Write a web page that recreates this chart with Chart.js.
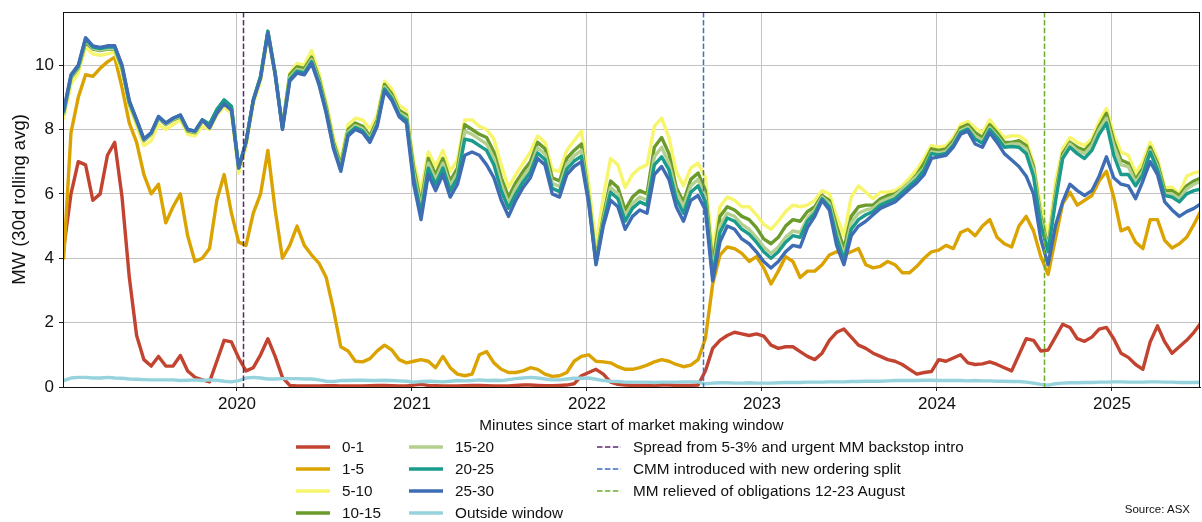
<!DOCTYPE html>
<html>
<head>
<meta charset="utf-8">
<script src="https://cdn.jsdelivr.net/npm/chart.js@4.4.1/dist/chart.umd.min.js"></script>
<style>
  html, body { margin: 0; padding: 0; background: #ffffff; }
  #wrap { position: relative; width: 1202px; height: 522px; overflow: hidden;
          font-family: "Liberation Sans", Arial, Helvetica, sans-serif; color: #111; }
  #chart { position: absolute; left: 0; top: 0; }
  .xtitle { position: absolute; left: 63px; width: 1137px; top: 416px; text-align: center;
            font-size: 15.3px; line-height: 18px; }
  .lg { position: absolute; font-size: 15.3px; line-height: 18px; white-space: nowrap; }
  .lg svg { position: absolute; overflow: visible; }
  .source { position: absolute; right: 12px; top: 503px; font-size: 11.5px; line-height: 13px; }
</style>
</head>
<body>
<div id="wrap">
  <canvas id="chart" width="1202" height="522"></canvas>
  <div class="xtitle">Minutes since start of market making window</div>
  <div class="source">Source: ASX</div>
</div>
<script>
// Half-monthly samples of the 30-day rolling average, starting early January 2019
const sampleStart = 2019.01;
const sampleStep = 1 / 24;

const seriesNames = ['0-1', '1-5', '5-10', '10-15', '15-20', '20-25', '25-30', 'Outside window'];

const mw0_1 = [4.3, 6.0, 7.0, 6.9, 5.8, 6.0, 7.2, 7.6, 5.9, 3.4,
  1.6, 0.85, 0.65, 0.95, 0.65, 0.65, 0.98, 0.5, 0.3, 0.22,
  0.16, 0.8, 1.45, 1.4, 0.9, 0.5, 0.6, 1.0, 1.5, 0.95,
  0.3, 0.05, 0.03, 0.03, 0.03, 0.03, 0.04, 0.04, 0.03, 0.03,
  0.03, 0.03, 0.04, 0.05, 0.05, 0.04, 0.03, 0.03, 0.06, 0.08,
  0.05, 0.04, 0.03, 0.03, 0.03, 0.04, 0.05, 0.05, 0.04, 0.03,
  0.03, 0.03, 0.05, 0.06, 0.06, 0.05, 0.04, 0.04, 0.05, 0.06,
  0.1, 0.35, 0.45, 0.55, 0.4, 0.15, 0.08, 0.06, 0.05, 0.05,
  0.05, 0.05, 0.06, 0.06, 0.05, 0.05, 0.05, 0.06, 0.5, 1.2,
  1.45, 1.6, 1.7, 1.65, 1.6, 1.65, 1.58, 1.3, 1.2, 1.25,
  1.25, 1.1, 0.95, 0.85, 1.05, 1.45, 1.7, 1.8, 1.55, 1.3,
  1.2, 1.05, 0.95, 0.85, 0.8, 0.7, 0.55, 0.4, 0.45, 0.48,
  0.85, 0.8, 0.9, 1.0, 0.75, 0.7, 0.72, 0.78, 0.7, 0.6,
  0.5, 1.0, 1.5, 1.45, 1.12, 1.15, 1.55, 1.95, 1.85, 1.5,
  1.42, 1.55, 1.8, 1.85, 1.5, 1.05, 0.92, 0.7, 0.55, 1.4,
  1.9, 1.4, 1.05, 1.25, 1.45, 1.7, 2.0];

const mw1_5 = [4.0, 7.9, 9.0, 9.7, 9.65, 9.9, 10.1, 10.25, 9.3, 8.2,
  7.6, 6.6, 6.0, 6.3, 5.1, 5.6, 6.0, 4.7, 3.9, 4.0,
  4.3, 5.8, 6.6, 5.4, 4.5, 4.4, 5.4, 6.0, 7.35, 5.5,
  4.0, 4.4, 5.0, 4.4, 4.1, 3.85, 3.4, 2.4, 1.25, 1.12,
  0.8, 0.78, 0.88, 1.12, 1.3, 1.15, 0.85, 0.75, 0.8, 0.85,
  0.8, 0.6, 0.95, 0.6, 0.4, 0.35, 0.4, 1.0, 1.1, 0.75,
  0.55, 0.45, 0.45, 0.5, 0.6, 0.55, 0.4, 0.33, 0.35, 0.45,
  0.8, 0.95, 1.0, 0.8, 0.78, 0.75, 0.63, 0.55, 0.55, 0.6,
  0.68, 0.78, 0.85, 0.8, 0.7, 0.63, 0.68, 0.85, 1.5, 3.2,
  4.1, 4.35, 4.3, 4.15, 3.9, 4.05, 3.7, 3.2, 3.6, 4.05,
  3.9, 3.4, 3.6, 3.6, 3.8, 4.1, 4.2, 4.1, 4.2, 4.3,
  3.8, 3.7, 3.75, 3.9, 3.8, 3.55, 3.55, 3.75, 4.0, 4.2,
  4.25, 4.4, 4.3, 4.8, 4.9, 4.7, 5.0, 5.2, 4.65, 4.45,
  4.35, 5.0, 5.3, 4.85, 4.05, 3.5, 4.6, 5.7, 6.05, 5.65,
  5.8, 5.95, 6.4, 6.7, 5.9, 4.85, 4.95, 4.5, 4.3, 5.2,
  5.2, 4.55, 4.32, 4.45, 4.65, 5.05, 5.5];

const mw5_10 = [8.35, 9.4, 9.75, 10.55, 10.35, 10.3, 10.35, 10.4, 9.8, 8.75,
  8.1, 7.5, 7.65, 8.15, 8.0, 8.15, 8.3, 7.85, 7.8, 8.1,
  8.0, 8.45, 8.7, 8.5, 6.65, 7.45, 8.8, 9.5, 10.9, 9.7,
  8.1, 9.75, 10.05, 10.0, 10.45, 9.75, 8.85, 7.75, 7.05, 8.15,
  8.35, 8.3, 8.0, 8.45, 9.5, 9.25, 8.75, 8.6, 7.0, 6.1,
  7.3, 6.85, 7.35, 6.7, 7.05, 8.3, 8.3, 8.1, 8.0, 7.7,
  6.9, 6.2, 6.6, 6.95, 7.3, 7.8, 7.6, 6.75, 6.7, 7.35,
  7.65, 7.95, 6.3, 4.4, 5.9, 7.1, 6.9, 6.2, 6.6, 6.8,
  6.9, 8.1, 8.35, 7.75, 6.7, 6.25, 6.8, 6.95, 6.5, 4.2,
  5.6, 5.9, 5.8, 5.6, 5.6, 5.35, 5.05, 4.9, 5.15, 5.45,
  5.65, 5.6, 5.65, 5.8, 6.1, 6.0, 5.3, 4.7, 5.9, 6.25,
  6.05, 5.85, 6.05, 6.05, 6.1, 6.25, 6.5, 6.75, 7.1, 7.5,
  7.45, 7.5, 7.75, 8.15, 8.25, 8.05, 7.9, 8.3, 8.0, 7.75,
  7.8, 7.8, 7.65, 6.95, 5.6, 4.6, 6.35, 7.4, 7.75, 7.6,
  7.5, 7.7, 8.25, 8.65, 7.85, 7.3, 7.2, 6.65, 7.0, 7.6,
  7.1, 6.2, 6.2, 6.0, 6.55, 6.65, 6.7];

const mw10_15 = [8.5, 9.6, 9.9, 10.7, 10.5, 10.45, 10.5, 10.5, 9.9, 8.8,
  8.25, 7.65, 7.85, 8.35, 8.15, 8.3, 8.4, 7.95, 7.9, 8.25,
  8.15, 8.6, 8.9, 8.7, 6.8, 7.6, 8.9, 9.65, 11.05, 9.75,
  8.05, 9.7, 9.95, 9.9, 10.25, 9.6, 8.7, 7.6, 6.9, 8.0,
  8.2, 8.1, 7.8, 8.3, 9.4, 9.1, 8.6, 8.45, 6.8, 5.7,
  7.1, 6.6, 7.1, 6.4, 6.8, 8.15, 8.0, 7.85, 7.75, 7.3,
  6.5, 5.9, 6.35, 6.7, 7.0, 7.6, 7.4, 6.5, 6.4, 7.1,
  7.35, 7.55, 5.9, 3.95, 5.3, 6.4, 6.2, 5.5, 5.9, 6.1,
  6.0, 7.45, 7.75, 7.25, 6.2, 5.75, 6.45, 6.65, 6.1, 3.8,
  5.3, 5.6, 5.5, 5.3, 5.2, 4.95, 4.6, 4.45, 4.65, 5.0,
  5.2, 5.15, 5.45, 5.6, 5.95, 5.8, 5.0, 4.3, 5.3, 5.6,
  5.65, 5.65, 5.85, 5.95, 6.0, 6.15, 6.35, 6.6, 6.95, 7.4,
  7.35, 7.4, 7.65, 8.05, 8.15, 7.9, 7.75, 8.15, 7.9, 7.6,
  7.6, 7.65, 7.5, 6.85, 5.3, 4.35, 6.0, 7.25, 7.6, 7.45,
  7.35, 7.6, 8.1, 8.5, 7.65, 7.05, 6.95, 6.45, 6.8, 7.45,
  6.95, 6.1, 6.1, 5.95, 6.25, 6.4, 6.5];

const mw15_20 = [8.52, 9.62, 9.92, 10.77, 10.52, 10.47, 10.52, 10.52, 9.92, 8.82,
  8.27, 7.67, 7.87, 8.37, 8.17, 8.32, 8.42, 7.97, 7.92, 8.27,
  8.15, 8.6, 8.9, 8.7, 6.8, 7.6, 8.9, 9.63, 11.03, 9.73,
  8.03, 9.62, 9.87, 9.82, 10.17, 9.52, 8.62, 7.52, 6.82, 7.92,
  8.12, 8.02, 7.72, 8.22, 9.32, 9.02, 8.52, 8.38, 6.65, 5.55,
  6.95, 6.45, 6.95, 6.25, 6.65, 7.95, 7.85, 7.7, 7.55, 7.1,
  6.3, 5.7, 6.18, 6.53, 6.83, 7.43, 7.23, 6.33, 6.23, 6.93,
  7.18, 7.35, 5.82, 3.9, 5.2, 6.2, 6.0, 5.3, 5.7, 5.9,
  5.8, 7.15, 7.45, 6.95, 6.05, 5.6, 6.25, 6.45, 5.9, 3.6,
  5.0, 5.4, 5.3, 5.05, 4.9, 4.65, 4.35, 4.15, 4.35, 4.65,
  4.85, 4.8, 5.25, 5.5, 5.9, 5.7, 4.8, 4.1, 5.1, 5.4,
  5.5, 5.55, 5.75, 5.85, 5.95, 6.15, 6.35, 6.55, 6.8, 7.3,
  7.27, 7.32, 7.57, 7.97, 8.07, 7.8, 7.65, 8.05, 7.8, 7.5,
  7.55, 7.55, 7.4, 6.75, 5.2, 4.3, 5.9, 7.15, 7.55, 7.35,
  7.25, 7.5, 8.0, 8.35, 7.5, 6.9, 6.85, 6.35, 6.7, 7.35,
  6.85, 6.0, 6.0, 5.85, 6.15, 6.3, 6.4];

const mw20_25 = [8.56, 9.66, 9.96, 10.81, 10.56, 10.51, 10.56, 10.56, 9.96, 8.86,
  8.3, 7.7, 7.9, 8.4, 8.2, 8.35, 8.45, 8.0, 7.95, 8.3,
  8.17, 8.62, 8.92, 8.72, 6.82, 7.62, 8.92, 9.65, 11.05, 9.75,
  8.05, 9.56, 9.81, 9.76, 10.11, 9.46, 8.56, 7.46, 6.76, 7.86,
  8.06, 7.96, 7.66, 8.16, 9.26, 8.96, 8.46, 8.3, 6.5, 5.4,
  6.8, 6.3, 6.8, 6.1, 6.5, 7.7, 7.65, 7.5, 7.35, 6.9,
  6.1, 5.55, 6.0, 6.37, 6.67, 7.27, 7.07, 6.17, 6.07, 6.77,
  7.02, 7.17, 5.78, 3.85, 5.1, 6.05, 5.85, 5.15, 5.55, 5.75,
  5.65, 6.9, 7.15, 6.75, 5.85, 5.4, 6.05, 6.25, 5.75, 3.45,
  4.8, 5.25, 5.15, 4.9, 4.75, 4.5, 4.2, 4.0, 4.2, 4.5,
  4.7, 4.65, 5.15, 5.4, 5.85, 5.6, 4.65, 3.95, 4.9, 5.2,
  5.35, 5.45, 5.65, 5.75, 5.85, 6.05, 6.25, 6.45, 6.75, 7.25,
  7.21, 7.26, 7.51, 7.91, 8.01, 7.7, 7.57, 8.0, 7.75, 7.45,
  7.47, 7.45, 7.25, 6.55, 5.05, 4.2, 5.75, 7.1, 7.45, 7.25,
  7.1, 7.35, 7.85, 8.2, 7.2, 6.6, 6.6, 6.25, 6.6, 7.3,
  6.75, 5.95, 5.9, 5.75, 6.0, 6.1, 6.15];

const mw25_30 = [8.6, 9.7, 10.0, 10.85, 10.6, 10.55, 10.6, 10.6, 10.0, 8.9,
  8.3, 7.7, 7.9, 8.4, 8.2, 8.35, 8.45, 8.0, 7.95, 8.3,
  8.05, 8.5, 8.8, 8.6, 6.8, 7.6, 8.9, 9.6, 11.0, 9.7,
  8.0, 9.5, 9.75, 9.7, 10.05, 9.4, 8.5, 7.4, 6.7, 7.8,
  8.0, 7.9, 7.6, 8.1, 9.2, 8.9, 8.4, 8.2, 6.3, 5.2,
  6.6, 6.1, 6.6, 5.9, 6.3, 7.2, 7.3, 7.2, 6.9, 6.5,
  5.8, 5.3, 5.8, 6.2, 6.5, 7.1, 6.9, 6.0, 5.9, 6.6,
  6.85, 7.0, 5.7, 3.8, 5.0, 5.8, 5.6, 4.9, 5.3, 5.5,
  5.4, 6.6, 6.85, 6.45, 5.6, 5.15, 5.8, 5.95, 5.5, 3.3,
  4.5, 5.0, 4.9, 4.6, 4.45, 4.2, 3.9, 3.7, 3.9, 4.2,
  4.4, 4.35, 4.95, 5.3, 5.8, 5.5, 4.4, 3.8, 4.7, 5.0,
  5.15, 5.35, 5.55, 5.65, 5.75, 5.95, 6.15, 6.35, 6.6, 7.1,
  7.15, 7.2, 7.45, 7.85, 7.95, 7.55, 7.45, 7.9, 7.6, 7.25,
  7.05, 6.85, 6.55, 6.0, 4.6, 3.8, 5.0, 5.75, 6.3, 6.1,
  5.95, 6.1, 6.55, 7.15, 6.5, 6.3, 6.25, 5.85, 6.4, 7.0,
  6.6, 5.75, 5.5, 5.3, 5.45, 5.55, 5.7];

const mwOutside = [0.2, 0.28, 0.3, 0.3, 0.28, 0.28, 0.3, 0.28, 0.27, 0.25,
  0.24, 0.23, 0.22, 0.22, 0.22, 0.22, 0.2, 0.21, 0.22, 0.2,
  0.22, 0.21, 0.18, 0.16, 0.2, 0.28, 0.3, 0.28, 0.25, 0.25,
  0.26, 0.26, 0.26, 0.25, 0.25, 0.22, 0.18, 0.17, 0.2, 0.2,
  0.21, 0.21, 0.2, 0.2, 0.21, 0.2, 0.19, 0.18, 0.15, 0.17,
  0.18, 0.17, 0.16, 0.18, 0.2, 0.19, 0.2, 0.22, 0.2, 0.21,
  0.2, 0.23, 0.26, 0.28, 0.3, 0.28, 0.25, 0.22, 0.22, 0.25,
  0.27, 0.27, 0.28, 0.24, 0.2, 0.18, 0.17, 0.15, 0.15, 0.15,
  0.15, 0.14, 0.15, 0.15, 0.15, 0.16, 0.16, 0.16, 0.1, 0.12,
  0.13, 0.13, 0.12, 0.12, 0.13, 0.12, 0.12, 0.12, 0.13, 0.14,
  0.14, 0.14, 0.15, 0.15, 0.15, 0.16, 0.16, 0.16, 0.17, 0.17,
  0.18, 0.18, 0.18, 0.19, 0.2, 0.2, 0.2, 0.2, 0.21, 0.21,
  0.2, 0.2, 0.2, 0.2, 0.19, 0.2, 0.19, 0.19, 0.18, 0.18,
  0.17, 0.17, 0.15, 0.12, 0.08, 0.06, 0.1, 0.12, 0.13, 0.13,
  0.14, 0.14, 0.15, 0.15, 0.16, 0.16, 0.15, 0.15, 0.15, 0.16,
  0.16, 0.15, 0.15, 0.14, 0.14, 0.14, 0.15];

// Policy changes marked as dashed verticals (decimal year)
const eventDates = [2020.033, 2022.661, 2024.611];
const eventLabels = ['Spread from 5-3% and urgent MM backstop intro',
                     'CMM introduced with new ordering split',
                     'MM relieved of obligations 12-23 August'];

const yearTicks = [2020, 2021, 2022, 2023, 2024, 2025];
const mwTicks = [0, 2, 4, 6, 8, 10];

const seriesValues = [mw0_1, mw1_5, mw5_10, mw10_15, mw15_20, mw20_25, mw25_30, mwOutside];
const seriesColors = ['#c2432f', '#dba300', '#f6f56c', '#6b9c2b', '#b4d08f', '#1b9b8b', '#3e6db4', '#97d3dd'];
const eventColors = ['#5a2a6e', '#3c70c2', '#6fab2c'];

const toPoints = vals => vals.map((v, i) => ({ x: sampleStart + i * sampleStep, y: v }));

const datasets = seriesNames.map((name, k) => ({
  label: name,
  data: toPoints(seriesValues[k]),
  borderColor: seriesColors[k],
  backgroundColor: seriesColors[k],
  borderWidth: 3.4,
  pointRadius: 0,
  tension: 0,
  borderJoinStyle: 'round',
  borderCapStyle: 'round',
  order: -k            // later series are painted over earlier ones
}));

const frameAndEvents = {
  id: 'frameAndEvents',
  afterDatasetsDraw(chart) {
    const { ctx, chartArea: a, scales: { x } } = chart;
    ctx.save();
    ctx.lineWidth = 1.5;
    ctx.setLineDash([5.5, 2.4]);
    eventDates.forEach((d, k) => {
      const px = Math.round(x.getPixelForValue(d)) + 0.5;
      ctx.strokeStyle = eventColors[k];
      ctx.beginPath();
      ctx.moveTo(px, a.top);
      ctx.lineTo(px, a.bottom);
      ctx.stroke();
    });
    ctx.setLineDash([]);
    ctx.strokeStyle = '#111';
    ctx.lineWidth = 1;
    ctx.strokeRect(a.left + 0.5, a.top + 0.5, a.right - a.left - 1, a.bottom - a.top);
    ctx.restore();
  }
};

Chart.defaults.font.family = '"Liberation Sans", Arial, Helvetica, sans-serif';
Chart.defaults.color = '#111';

new Chart(document.getElementById('chart'), {
  type: 'line',
  data: { datasets },
  options: {
    responsive: false,
    animation: false,
    devicePixelRatio: 1,
    layout: { padding: { left: 0, top: 12, right: 2, bottom: 107 } },
    plugins: { legend: { display: false }, tooltip: { enabled: false } },
    scales: {
      x: {
        type: 'linear',
        min: 2019.006,
        max: 2025.503,
        afterBuildTicks: s => { s.ticks = yearTicks.map(v => ({ value: v })); },
        ticks: { font: { size: 17 }, color: '#111', padding: 3, maxRotation: 0,
                 callback: v => String(v) },
        grid: { color: '#c2c2c2', lineWidth: 1, tickColor: '#222', tickLength: 4 },
        border: { display: true, color: '#111', width: 1 },
        afterFit: s => { s.height = 28; s.paddingLeft = 0; s.paddingRight = 0; }
      },
      y: {
        min: 0,
        max: 11.65,
        afterBuildTicks: s => { s.ticks = mwTicks.map(v => ({ value: v })); },
        ticks: { font: { size: 17 }, color: '#111', padding: 5, callback: v => String(v) },
        grid: { color: '#c2c2c2', lineWidth: 1, tickColor: '#222', tickLength: 4 },
        border: { display: true, color: '#111', width: 1 },
        title: { display: true, text: 'MW (30d rolling avg)', font: { size: 18.5 },
                 color: '#111', padding: { top: 9, bottom: 0 } },
        afterFit: s => { s.width = 63; s.paddingTop = 0; s.paddingBottom = 0; }
      }
    }
  },
  plugins: [frameAndEvents]
});

// Legend below the axis title: two columns of series, one column of event markers
const wrap = document.getElementById('wrap');
const legendRows = [447, 469, 491, 513];
function legendItem(left, row, color, text, dashed, handleLen) {
  const el = document.createElement('div');
  el.className = 'lg';
  el.style.left = left + 'px';
  el.style.top = (legendRows[row] - 9) + 'px';
  const svg = document.createElementNS('http://www.w3.org/2000/svg', 'svg');
  svg.setAttribute('width', handleLen);
  svg.setAttribute('height', 8);
  svg.style.left = '0px';
  svg.style.top = '5px';
  const ln = document.createElementNS('http://www.w3.org/2000/svg', 'line');
  ln.setAttribute('x1', 0); ln.setAttribute('x2', handleLen);
  ln.setAttribute('y1', 4); ln.setAttribute('y2', 4);
  ln.setAttribute('stroke', color);
  if (dashed) {
    ln.setAttribute('stroke-width', 1.5);
    ln.setAttribute('stroke-dasharray', '5.5 2.4');
  } else {
    ln.setAttribute('stroke-width', 3.4);
  }
  svg.appendChild(ln);
  el.appendChild(svg);
  const span = document.createElement('span');
  span.textContent = text;
  span.style.marginLeft = (handleLen + 12) + 'px';
  el.appendChild(span);
  wrap.appendChild(el);
}
seriesNames.forEach((name, k) => {
  const col = k < 4 ? 296 : 409;
  legendItem(col, k % 4, seriesColors[k], name, false, 34);
});
eventLabels.forEach((label, k) => legendItem(597, k, eventColors[k], label, true, 24));
</script>
</body>
</html>
